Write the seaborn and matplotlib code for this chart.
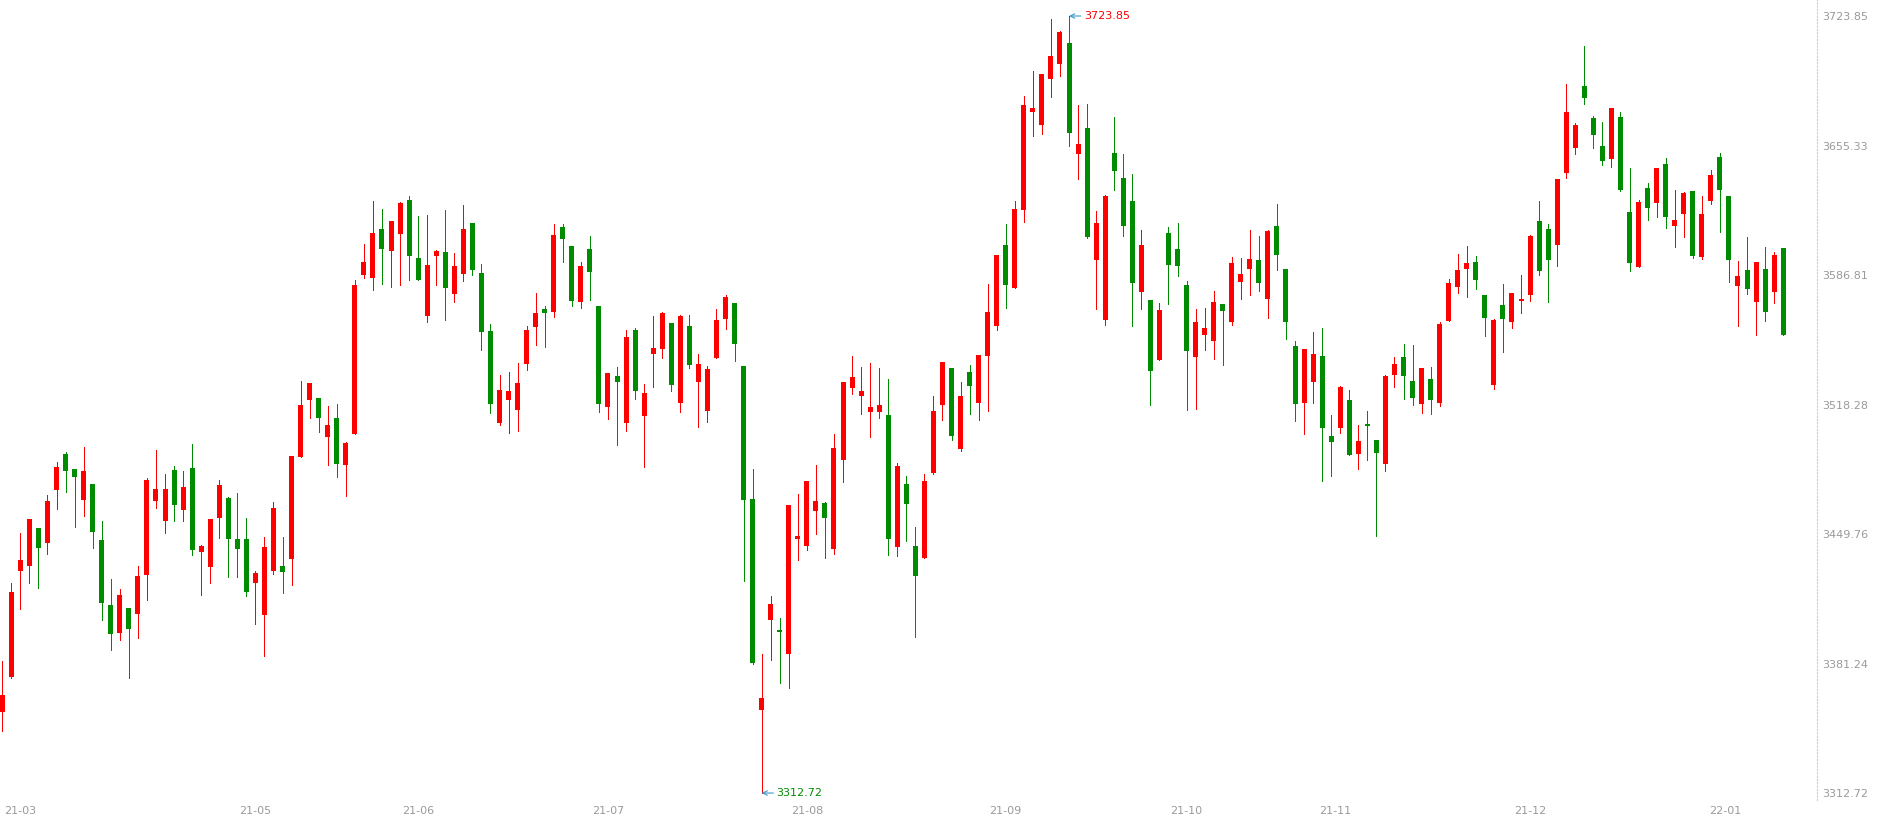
import numpy as np
import pandas as pd
import matplotlib
matplotlib.use("Agg")
import matplotlib.pyplot as plt
import seaborn as sns

# ---------------- data ----------------
opens = [3355.8, 3374.3, 3430.4, 3432.9, 3453.0, 3445.2, 3473.2, 3492.1, 3484.2, 3468.0,
         3476.2, 3446.6, 3412.2, 3397.6, 3410.6, 3407.6, 3428.3, 3467.4, 3456.8, 3483.6,
         3462.7, 3484.7, 3440.4, 3432.5, 3458.4, 3468.8, 3447.1, 3447.1, 3424.0, 3407.1,
         3430.4, 3432.8, 3436.7, 3490.7, 3520.9, 3521.7, 3501.3, 3511.2, 3486.5, 3502.9,
         3587.0, 3585.4, 3611.2, 3599.7, 3608.7, 3626.5, 3595.8, 3565.3, 3597.0, 3599.0,
         3576.9, 3587.5, 3614.3, 3587.9, 3557.2, 3508.7, 3520.9, 3515.6, 3539.9, 3559.5,
         3568.8, 3567.4, 3612.2, 3602.2, 3572.7, 3600.6, 3570.4, 3517.2, 3533.4, 3508.7,
         3557.7, 3512.4, 3545.2, 3547.8, 3561.4, 3519.3, 3559.8, 3530.4, 3515.0, 3543.1,
         3563.7, 3572.0, 3538.7, 3468.3, 3356.8, 3404.5, 3399.0, 3386.3, 3447.3, 3443.6,
         3462.1, 3466.2, 3442.0, 3489.1, 3527.2, 3523.0, 3514.5, 3514.5, 3512.7, 3443.1,
         3476.2, 3443.6, 3437.3, 3482.2, 3518.0, 3537.6, 3494.9, 3535.5, 3519.3, 3544.1,
         3560.0, 3602.7, 3580.1, 3621.4, 3673.2, 3666.4, 3690.7, 3698.6, 3709.6, 3651.0,
         3664.6, 3594.9, 3563.2, 3651.4, 3638.1, 3626.0, 3578.0, 3573.6, 3542.0, 3609.0,
         3600.6, 3581.5, 3543.6, 3555.2, 3552.1, 3571.5, 3562.1, 3583.3, 3590.2, 3594.8,
         3574.3, 3612.7, 3590.0, 3549.3, 3519.3, 3530.4, 3544.0, 3501.6, 3506.0, 3520.7,
         3492.3, 3507.5, 3499.5, 3487.0, 3534.1, 3543.4, 3530.7, 3518.7, 3531.8, 3519.3,
         3562.7, 3580.6, 3590.2, 3593.7, 3576.2, 3528.8, 3570.9, 3562.1, 3573.2, 3576.4,
         3615.4, 3611.2, 3602.9, 3641.0, 3654.2, 3686.8, 3669.9, 3655.1, 3648.4, 3670.4,
         3620.2, 3591.2, 3632.9, 3625.1, 3645.6, 3612.9, 3619.3, 3631.3, 3596.5, 3626.2,
         3649.3, 3628.6, 3581.2, 3589.5, 3572.7, 3590.0, 3578.0, 3601.1]

highs = [3382.6, 3423.7, 3450.3, 3457.7, 3453.0, 3470.4, 3487.9, 3493.2, 3484.2, 3495.8,
         3476.2, 3456.7, 3426.0, 3420.7, 3410.6, 3432.9, 3479.4, 3494.2, 3481.5, 3485.8,
         3483.1, 3497.4, 3443.9, 3457.7, 3478.4, 3469.4, 3471.5, 3458.3, 3430.2, 3448.2,
         3466.7, 3448.2, 3491.1, 3530.7, 3529.7, 3521.7, 3517.5, 3518.6, 3498.5, 3584.2,
         3603.2, 3626.0, 3621.7, 3615.4, 3625.4, 3628.6, 3618.0, 3618.6, 3600.0, 3621.2,
         3598.5, 3623.9, 3614.3, 3592.6, 3560.9, 3533.9, 3535.5, 3540.3, 3559.8, 3577.3,
         3570.4, 3613.8, 3613.8, 3602.2, 3593.7, 3607.5, 3570.4, 3535.0, 3538.1, 3557.7,
         3558.8, 3529.1, 3565.1, 3567.2, 3561.4, 3565.7, 3565.7, 3545.0, 3538.7, 3568.8,
         3576.2, 3572.0, 3538.7, 3484.2, 3386.3, 3417.0, 3405.3, 3465.1, 3470.9, 3477.8,
         3486.3, 3466.7, 3502.7, 3530.2, 3544.0, 3538.1, 3540.3, 3537.6, 3531.8, 3487.3,
         3480.5, 3453.7, 3481.5, 3522.8, 3540.8, 3537.6, 3530.2, 3539.2, 3544.5, 3582.0,
         3597.4, 3613.8, 3626.0, 3681.5, 3694.8, 3693.2, 3722.3, 3715.9, 3723.85, 3676.8,
         3677.3, 3620.7, 3629.1, 3670.4, 3650.8, 3640.3, 3610.6, 3573.6, 3572.0, 3612.2,
         3614.3, 3583.6, 3568.8, 3569.4, 3578.4, 3571.5, 3596.3, 3595.8, 3610.6, 3607.5,
         3610.6, 3624.4, 3590.0, 3551.9, 3547.7, 3556.7, 3558.8, 3512.7, 3528.1, 3526.0,
         3507.5, 3514.9, 3499.5, 3533.9, 3543.4, 3550.3, 3549.8, 3537.6, 3538.1, 3561.9,
         3584.7, 3597.9, 3602.2, 3596.9, 3576.2, 3563.5, 3582.1, 3577.3, 3586.8, 3608.0,
         3626.0, 3613.8, 3637.6, 3687.9, 3667.3, 3708.0, 3670.9, 3667.8, 3675.2, 3673.1,
         3643.4, 3626.5, 3635.5, 3643.4, 3648.7, 3631.8, 3630.7, 3631.3, 3628.6, 3642.4,
         3651.4, 3628.6, 3594.4, 3607.1, 3593.7, 3601.8, 3599.2, 3601.1]

lows = [3345.7, 3373.5, 3410.3, 3424.0, 3421.4, 3439.4, 3463.2, 3472.2, 3453.7, 3459.5,
        3442.6, 3404.5, 3388.6, 3393.9, 3373.8, 3394.9, 3415.0, 3463.7, 3450.5, 3456.8,
        3456.8, 3438.9, 3417.7, 3424.0, 3447.8, 3427.2, 3427.2, 3417.2, 3402.3, 3385.4,
        3428.8, 3418.7, 3423.0, 3490.7, 3511.3, 3503.9, 3486.5, 3480.1, 3470.1, 3502.9,
        3585.4, 3579.1, 3582.2, 3580.6, 3581.7, 3584.3, 3584.3, 3562.1, 3581.7, 3563.2,
        3572.7, 3583.8, 3587.0, 3547.3, 3514.0, 3507.6, 3503.4, 3504.5, 3536.7, 3550.0,
        3548.9, 3564.8, 3593.9, 3570.4, 3569.5, 3573.8, 3514.5, 3510.8, 3497.0, 3504.5,
        3521.4, 3485.4, 3527.7, 3543.1, 3525.6, 3514.5, 3537.8, 3506.6, 3509.2, 3543.1,
        3558.4, 3541.5, 3425.1, 3381.0, 3312.72, 3383.3, 3370.9, 3368.3, 3436.2, 3441.5,
        3450.0, 3437.3, 3439.4, 3477.5, 3524.0, 3513.5, 3501.3, 3511.3, 3438.8, 3438.3,
        3446.3, 3395.5, 3437.3, 3481.7, 3510.3, 3499.7, 3493.9, 3513.5, 3510.1, 3515.0,
        3557.9, 3569.5, 3580.1, 3615.0, 3660.5, 3661.6, 3681.2, 3692.3, 3655.2, 3637.8,
        3606.6, 3569.0, 3560.5, 3632.0, 3607.6, 3560.0, 3569.0, 3518.2, 3542.0, 3571.6,
        3586.5, 3515.6, 3516.1, 3547.3, 3542.6, 3539.4, 3560.5, 3574.3, 3576.4, 3578.5,
        3564.2, 3589.6, 3553.1, 3509.7, 3502.9, 3519.3, 3478.0, 3480.6, 3503.4, 3491.8,
        3484.3, 3489.1, 3448.5, 3483.3, 3527.7, 3521.4, 3518.2, 3514.0, 3513.5, 3517.7,
        3562.7, 3577.5, 3575.4, 3579.6, 3554.7, 3526.7, 3546.3, 3559.0, 3566.9, 3573.2,
        3587.0, 3572.7, 3591.8, 3638.3, 3651.0, 3677.5, 3654.2, 3645.2, 3644.1, 3631.4,
        3589.1, 3591.2, 3616.1, 3617.7, 3611.9, 3601.8, 3607.1, 3596.0, 3595.5, 3624.6,
        3609.7, 3583.3, 3560.0, 3576.9, 3555.2, 3562.7, 3572.2, 3555.2]

closes = [3364.6, 3419.1, 3436.0, 3457.7, 3442.6, 3467.2, 3485.2, 3483.3, 3480.1, 3483.1,
          3451.0, 3413.5, 3397.1, 3417.5, 3399.7, 3427.6, 3478.4, 3473.6, 3473.6, 3465.3,
          3474.7, 3441.5, 3443.4, 3457.7, 3475.7, 3447.3, 3442.0, 3419.3, 3429.1, 3442.9,
          3463.5, 3429.9, 3491.1, 3518.0, 3529.7, 3511.3, 3507.5, 3487.0, 3497.9, 3581.5,
          3593.7, 3609.0, 3600.8, 3615.4, 3624.9, 3597.0, 3584.3, 3592.1, 3599.5, 3580.1,
          3591.6, 3611.2, 3589.6, 3556.8, 3518.7, 3526.0, 3525.4, 3529.7, 3557.7, 3566.7,
          3566.9, 3608.0, 3606.0, 3573.2, 3591.6, 3588.6, 3518.7, 3535.0, 3530.4, 3554.0,
          3525.6, 3524.4, 3548.2, 3566.7, 3528.8, 3565.1, 3539.4, 3539.7, 3537.1, 3563.0,
          3575.2, 3550.5, 3467.9, 3381.5, 3363.0, 3412.7, 3397.9, 3465.1, 3448.7, 3477.8,
          3467.2, 3458.4, 3495.3, 3530.2, 3532.9, 3525.4, 3517.0, 3518.0, 3447.3, 3485.8,
          3465.8, 3427.7, 3477.8, 3514.9, 3540.8, 3501.8, 3522.8, 3528.3, 3544.5, 3567.2,
          3597.4, 3581.7, 3621.7, 3676.8, 3675.2, 3693.2, 3702.7, 3715.4, 3662.1, 3656.1,
          3607.1, 3614.3, 3628.6, 3642.0, 3612.9, 3582.8, 3602.7, 3536.2, 3568.3, 3592.3,
          3591.8, 3546.8, 3561.9, 3558.8, 3572.5, 3567.9, 3593.2, 3587.3, 3595.3, 3582.8,
          3610.1, 3597.6, 3562.1, 3518.7, 3547.7, 3545.0, 3506.0, 3498.6, 3527.6, 3491.8,
          3499.0, 3507.1, 3492.8, 3533.4, 3539.7, 3533.6, 3521.9, 3537.6, 3520.9, 3560.9,
          3582.6, 3589.5, 3593.2, 3584.4, 3564.2, 3563.2, 3563.7, 3577.3, 3574.1, 3607.5,
          3589.1, 3594.9, 3637.6, 3673.1, 3666.2, 3680.7, 3661.1, 3647.3, 3675.2, 3632.0,
          3593.3, 3625.4, 3622.4, 3643.4, 3617.7, 3615.9, 3630.2, 3597.0, 3619.1, 3639.7,
          3632.0, 3594.9, 3586.3, 3579.6, 3593.7, 3567.4, 3597.4, 3555.2]

month_labels = ["21-03", "21-05", "21-06", "21-07", "21-08",
                "21-09", "21-10", "21-11", "21-12", "22-01"]
month_pos = [2, 28, 46, 67, 89, 111, 131, 147.4, 169, 190.6]

price_ticks = [3723.85, 3655.33, 3586.81, 3518.28, 3449.76, 3381.24, 3312.72]

high_idx, high_val = 118, 3723.85
low_idx, low_val = 84, 3312.72

# ---------------- style ----------------
RED = "#ff0000"
GREEN = "#008c00"
ARROW = "#3a9ac8"
LABEL = "#9a9a9a"

sns.set_theme(style="white")
plt.rcParams["font.family"] = ["DejaVu Sans"]

df = pd.DataFrame({"open": opens, "high": highs, "low": lows, "close": closes})
df["idx"] = np.arange(len(df))
df["up"] = df["close"] >= df["open"]
df["color"] = np.where(df["up"], RED, GREEN)
df["body_lo"] = df[["open", "close"]].min(axis=1)
df["body_h"] = (df["close"] - df["open"]).abs().clip(lower=0.7)

W, H = 1879, 824
fig = plt.figure(figsize=(W / 100, H / 100), dpi=100, facecolor="white")
ax = fig.add_axes([0, 24 / H, 1817 / W, 800 / H])
ax.set_facecolor("white")

# wicks (1 px)
ax.vlines(df["idx"], df["low"], df["high"], colors=df["color"], linewidth=0.72,
          antialiased=False)
# bodies
ax.bar(df["idx"], df["body_h"], bottom=df["body_lo"], width=0.553,
       color=df["color"], linewidth=0, antialiased=False)

ax.set_xlim(-0.254, 200.74)
ax.set_ylim(3309.04, 3732.32)

# right price axis
ax.yaxis.tick_right()
ax.set_yticks(price_ticks)
ax.set_yticklabels([f"{v:.2f}" for v in price_ticks])
ax.tick_params(axis="y", length=2.2, width=0.7, color="#cccccc", pad=1.4,
               labelsize=8, labelcolor=LABEL, right=True, left=False)

# month axis
ax.set_xticks(month_pos)
ax.set_xticklabels(month_labels)
ax.tick_params(axis="x", length=0, pad=4, labelsize=8, labelcolor=LABEL, bottom=True)

sns.despine(ax=ax, left=True, bottom=True, top=True, right=False)
ax.spines["right"].set_linestyle((0, (1, 2)))
ax.spines["right"].set_color("#cccccc")
ax.spines["right"].set_linewidth(0.8)
ax.grid(False)

# high / low markers
ax.annotate(f"{high_val:.2f}", xy=(high_idx, high_val), xytext=(15, 0),
            textcoords="offset pixels", ha="left", va="center", fontsize=8, color=RED,
            arrowprops=dict(arrowstyle="->", color=ARROW, lw=0.8, shrinkA=0, shrinkB=0))
ax.annotate(f"{low_val:.2f}", xy=(low_idx, low_val), xytext=(15, 0),
            textcoords="offset pixels", ha="left", va="center", fontsize=8, color=GREEN,
            arrowprops=dict(arrowstyle="->", color=ARROW, lw=0.8, shrinkA=0, shrinkB=0))

fig.savefig("out.png", dpi=100, facecolor="white")
